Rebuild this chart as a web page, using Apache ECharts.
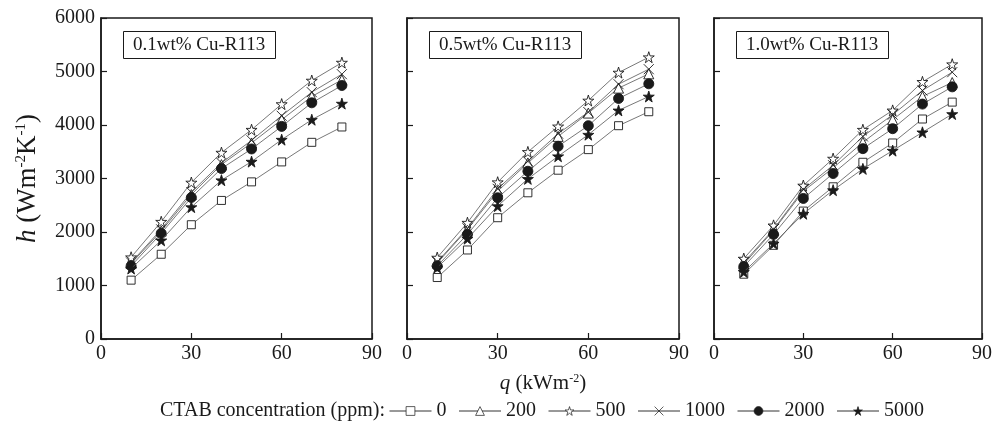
<!DOCTYPE html>
<html>
<head>
<meta charset="utf-8">
<script src="https://cdn.jsdelivr.net/npm/echarts@6/dist/echarts.min.js"></script>
<style>
html,body{margin:0;padding:0;background:#fff;}
#chart{width:995px;height:432px;}
</style>
</head>
<body>
<div id="chart"></div>
<script>
// ---- data ----
const qValues = [10, 20, 30, 40, 50, 60, 70, 80];
const concentrations = ['0', '200', '500', '1000', '2000', '5000'];
const panelTitles = ['0.1wt% Cu-R113', '0.5wt% Cu-R113', '1.0wt% Cu-R113'];
const xTicks = [0, 30, 60, 90];
const yTicks = [0, 1000, 2000, 3000, 4000, 5000, 6000];

// panel 1: 0.1wt% Cu-R113
const p1_c0    = [1100, 1584, 2136, 2590, 2937, 3310, 3676, 3963];
const p1_c200  = [1410, 2018, 2700, 3260, 3664, 4099, 4533, 4844];
const p1_c500  = [1528, 2192, 2925, 3484, 3912, 4391, 4831, 5166];
const p1_c1000 = [1430, 2049, 2745, 3291, 3713, 4173, 4614, 4950];
const p1_c2000 = [1366, 1975, 2645, 3186, 3552, 3974, 4415, 4738];
const p1_c5000 = [1317, 1844, 2465, 2968, 3316, 3726, 4099, 4400];

// panel 2: 0.5wt% Cu-R113
const p2_c0    = [1149, 1664, 2267, 2733, 3155, 3540, 3987, 4248];
const p2_c200  = [1420, 2049, 2763, 3291, 3787, 4223, 4689, 4956];
const p2_c500  = [1522, 2174, 2931, 3497, 3974, 4458, 4980, 5267];
const p2_c1000 = [1440, 2070, 2807, 3322, 3838, 4242, 4763, 5043];
const p2_c2000 = [1366, 1956, 2640, 3136, 3602, 3987, 4496, 4770];
const p2_c5000 = [1336, 1876, 2484, 2993, 3416, 3819, 4273, 4533];

// panel 3: 1.0wt% Cu-R113
const p3_c0    = [1211, 1751, 2391, 2845, 3303, 3664, 4112, 4428];
const p3_c200  = [1400, 2030, 2763, 3198, 3676, 4099, 4533, 4794];
const p3_c500  = [1503, 2124, 2869, 3372, 3912, 4273, 4807, 5136];
const p3_c1000 = [1430, 2050, 2795, 3248, 3787, 4192, 4645, 4987];
const p3_c2000 = [1354, 1956, 2627, 3093, 3558, 3931, 4391, 4713];
const p3_c5000 = [1254, 1783, 2341, 2782, 3180, 3521, 3863, 4205];

const panels = [
  [p1_c0, p1_c200, p1_c500, p1_c1000, p1_c2000, p1_c5000],
  [p2_c0, p2_c200, p2_c500, p2_c1000, p2_c2000, p2_c5000],
  [p3_c0, p3_c200, p3_c500, p3_c1000, p3_c2000, p3_c5000]
];

// ---- styles ----
const FONT = '"Liberation Serif", "DejaVu Serif", serif';
const INK = '#1a1a1a';
const STAR = 'path://M50,0 L61.2,34.5 L97.6,34.5 L68.2,55.9 L79.4,90.5 L50,69.1 L20.6,90.5 L31.8,55.9 L2.4,34.5 L38.8,34.5 Z';
const CROSS = 'path://M0,0 L10,10 M10,0 L0,10';
const markerStyles = [
  {symbol: 'rect', size: 8, color: '#fff', border: INK},
  {symbol: 'triangle', size: 10, color: '#fff', border: INK},
  {symbol: STAR, size: 11, color: '#fff', border: INK},
  {symbol: CROSS, size: 10, color: 'none', border: INK},
  {symbol: 'circle', size: 10, color: INK, border: INK},
  {symbol: STAR, size: 11, color: INK, border: INK}
];

const grids = [
  {left: 101, top: 18, width: 271, height: 321},
  {left: 407, top: 18, width: 272, height: 321},
  {left: 714, top: 18, width: 271, height: 321}
];

const xAxes = [], yAxes = [], series = [], titles = [];
grids.forEach((g, i) => {
  g.show = true;
  g.borderColor = INK;
  g.borderWidth = 1.5;
  g.backgroundColor = 'transparent';
  xAxes.push({
    type: 'value', gridIndex: i, min: xTicks[0], max: xTicks[xTicks.length - 1], interval: 30,
    axisLine: {show: true, lineStyle: {color: INK, width: 1.5}},
    axisTick: {show: true, inside: true, length: 6, lineStyle: {color: INK, width: 1.2}},
    axisLabel: {color: INK, fontFamily: FONT, fontSize: 20, margin: 5, formatter: v => String(v)},
    splitLine: {show: false},
    name: i === 1 ? '{i|q} (kWm{s|-2})' : '',
    nameLocation: 'middle', nameGap: 34,
    nameTextStyle: {
      color: INK, fontFamily: FONT, fontSize: 21,
      rich: {
        i: {fontStyle: 'italic', fontFamily: FONT, fontSize: 21, color: INK},
        s: {fontSize: 12, fontFamily: FONT, color: INK, verticalAlign: 'top', lineHeight: 10, padding: [0, 0, 10, 0]}
      }
    }
  });
  yAxes.push({
    type: 'value', gridIndex: i, min: yTicks[0], max: yTicks[yTicks.length - 1], interval: 1000,
    axisLine: {show: true, lineStyle: {color: INK, width: 1.5}},
    axisTick: {show: true, inside: true, length: 6, lineStyle: {color: INK, width: 1.2}},
    axisLabel: {show: i === 0, color: INK, fontFamily: FONT, fontSize: 20, margin: 6, formatter: v => String(v)},
    splitLine: {show: false},
    name: i === 0 ? '{i|h} (Wm{s|-2}K{s|-1})' : '',
    nameLocation: 'middle', nameGap: 60, nameRotate: 90,
    nameTextStyle: {
      color: INK, fontFamily: FONT, fontSize: 27,
      rich: {
        i: {fontStyle: 'italic', fontFamily: FONT, fontSize: 27, color: INK},
        s: {fontSize: 15, fontFamily: FONT, color: INK, verticalAlign: 'top', lineHeight: 12, padding: [0, 0, 14, 0]}
      }
    }
  });
  titles.push({
    text: panelTitles[i],
    left: g.left + 22, top: 31,
    padding: [5, 10, 4, 10],
    borderColor: INK, borderWidth: 1,
    textStyle: {fontFamily: FONT, fontSize: 19, fontWeight: 'normal', color: INK}
  });
  panels[i].forEach((vals, k) => {
    const m = markerStyles[k];
    series.push({
      name: concentrations[k],
      type: 'line',
      xAxisIndex: i, yAxisIndex: i,
      data: qValues.map((q, j) => [q, vals[j]]),
      symbol: m.symbol, symbolSize: m.size,
      showAllSymbol: true,
      lineStyle: {color: '#555', width: 0.8},
      itemStyle: {color: m.color, borderColor: m.border, borderWidth: 0.9},
      emphasis: {disabled: true},
      animation: false,
      z: 2 + k
    });
  });
});

const chart = echarts.init(document.getElementById('chart'), null, {renderer: 'canvas'});
chart.setOption({
  backgroundColor: '#fff',
  animation: false,
  title: titles,
  grid: grids,
  xAxis: xAxes,
  yAxis: yAxes,
  series: series,
  legend: {
    data: concentrations,
    left: 389, top: 401,
    itemWidth: 42, itemHeight: 11, itemGap: 12,
    padding: 0,
    itemStyle: {borderWidth: 0.7},
    lineStyle: {width: 1, color: '#333'},
    textStyle: {fontFamily: FONT, fontSize: 20, color: INK},
    selectedMode: false
  },
  graphic: [{
    type: 'text',
    left: 160, top: 401,
    style: {text: 'CTAB concentration (ppm):', font: '20px ' + FONT, fill: INK}
  }]
});
</script>
</body>
</html>
